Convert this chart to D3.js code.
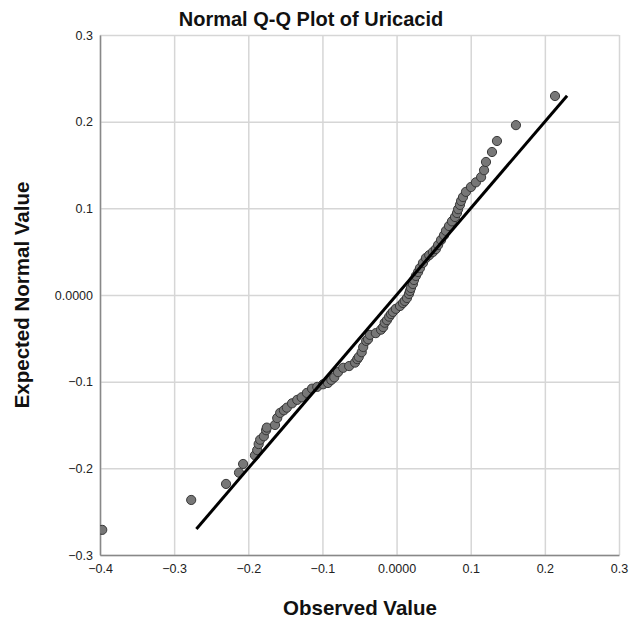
<!DOCTYPE html>
<html>
<head>
<meta charset="utf-8">
<script src="https://cdn.jsdelivr.net/npm/d3@7/dist/d3.min.js"></script>
<style>
  body { margin: 0; background: #fff; }
  svg { display: block; font-family: 'Liberation Sans', Arial, sans-serif; }
</style>
</head>
<body>
<div id="chart"></div>
<script>
const observed = [-0.397, -0.277, -0.230, -0.2125, -0.207, -0.191, -0.188, -0.186, -0.184, -0.179,
  -0.176, -0.175, -0.164, -0.161, -0.157, -0.152, -0.148, -0.141, -0.134, -0.128,
  -0.121, -0.114, -0.107, -0.099, -0.0925, -0.088, -0.084, -0.079, -0.072, -0.064,
  -0.056, -0.053, -0.051, -0.047, -0.045, -0.041, -0.0385, -0.036, -0.028, -0.021,
  -0.018, -0.016, -0.013, -0.010, -0.0075, -0.005, -0.001, 0.0046, 0.0086, 0.011,
  0.014, 0.0167, 0.018, 0.0194, 0.022, 0.0235, 0.026, 0.029, 0.0315, 0.0356,
  0.0396, 0.044, 0.049, 0.053, 0.056, 0.060, 0.064, 0.0666, 0.0707, 0.0747,
  0.0788, 0.0815, 0.083, 0.0855, 0.087, 0.0896, 0.0936, 0.1003, 0.107, 0.114,
  0.118, 0.1206, 0.1287, 0.1354, 0.161, 0.2137];
const expected = [-0.271, -0.2365, -0.218, -0.205, -0.195, -0.185, -0.179, -0.172, -0.167, -0.163,
  -0.156, -0.153, -0.150, -0.142, -0.136, -0.133, -0.130, -0.125, -0.121, -0.118,
  -0.113, -0.108, -0.106, -0.103, -0.1015, -0.098, -0.095, -0.089, -0.084, -0.082,
  -0.078, -0.074, -0.0715, -0.066, -0.060, -0.053, -0.051, -0.046, -0.044, -0.040,
  -0.037, -0.032, -0.029, -0.025, -0.022, -0.0195, -0.016, -0.0127, -0.0092, -0.0069,
  -0.0035, 0.0012, 0.0046, 0.0081, 0.0127, 0.0173, 0.022, 0.0265, 0.031, 0.037,
  0.0427, 0.046, 0.0496, 0.053, 0.0577, 0.0635, 0.069, 0.074, 0.0796, 0.085,
  0.090, 0.0946, 0.099, 0.104, 0.1085, 0.113, 0.119, 0.1246, 0.130, 0.136,
  0.144, 0.1535, 0.165, 0.1777, 0.196, 0.2296];
// reference line y = x
const refLine = [-0.27, 0.23];

const xTicks = [-0.4, -0.3, -0.2, -0.1, 0, 0.1, 0.2, 0.3];
const yTicks = [-0.3, -0.2, -0.1, 0, 0.1, 0.2, 0.3];

const W = 633, H = 624;
const margin = { t: 35, r: 14, b: 69, l: 100 };
const innerWidth = W - margin.l - margin.r;
const innerHeight = H - margin.t - margin.b;

const fmt = d => (d === 0 ? '0.0000' : d3.format('.1f')(d));

const svg = d3.select('#chart').append('svg')
  .attr('width', W)
  .attr('height', H);

const x = d3.scaleLinear().domain([-0.4, 0.3]).range([0, innerWidth]);
const y = d3.scaleLinear().domain([-0.3, 0.3]).range([innerHeight, 0]);

const plot = svg.append('g')
  .attr('transform', `translate(${margin.l}, ${margin.t})`);

// grid
plot.append('g')
  .attr('class', 'grid-x')
  .call(d3.axisBottom(x).tickValues(xTicks).tickSize(innerHeight).tickFormat(''))
  .call(g => g.select('.domain').remove())
  .call(g => g.selectAll('text').remove())
  .selectAll('line')
  .attr('stroke', '#d6d6d6')
  .attr('stroke-width', 1.5);

plot.append('g')
  .attr('class', 'grid-y')
  .call(d3.axisRight(y).tickValues(yTicks).tickSize(innerWidth).tickFormat(''))
  .call(g => g.select('.domain').remove())
  .call(g => g.selectAll('text').remove())
  .selectAll('line')
  .attr('stroke', '#d6d6d6')
  .attr('stroke-width', 1.5);

// axes
const axisX = plot.append('g')
  .attr('transform', `translate(0, ${innerHeight})`)
  .call(d3.axisBottom(x).tickValues(xTicks).tickSize(0).tickPadding(9).tickFormat(fmt));
axisX.select('.domain').attr('stroke', '#888').attr('stroke-width', 1.5);
axisX.selectAll('text').style('font-size', '12.5px').attr('fill', '#222');

const axisY = plot.append('g')
  .call(d3.axisLeft(y).tickValues(yTicks).tickSize(0).tickPadding(7).tickFormat(fmt));
axisY.select('.domain').attr('stroke', '#888').attr('stroke-width', 1.5);
axisY.selectAll('text').style('font-size', '12.5px').attr('fill', '#222');

// clip for points
svg.append('defs').append('clipPath').attr('id', 'clip')
  .append('rect').attr('width', innerWidth).attr('height', innerHeight);

const data = observed.map((v, i) => ({ obs: v, exp: expected[i] }));

plot.append('g')
  .attr('clip-path', 'url(#clip)')
  .selectAll('circle')
  .data(data)
  .join('circle')
  .attr('cx', d => x(d.obs))
  .attr('cy', d => y(d.exp))
  .attr('r', 4.6)
  .attr('fill', '#777')
  .attr('stroke', '#383838')
  .attr('stroke-width', 1);

plot.append('line')
  .attr('x1', x(refLine[0]))
  .attr('y1', y(refLine[0]))
  .attr('x2', x(refLine[1]))
  .attr('y2', y(refLine[1]))
  .attr('stroke', '#000')
  .attr('stroke-width', 3);

// titles
svg.append('text')
  .attr('x', 311)
  .attr('y', 26)
  .attr('text-anchor', 'middle')
  .style('font-size', '20px')
  .style('font-weight', 'bold')
  .attr('fill', '#111')
  .text('Normal Q-Q Plot of Uricacid');

svg.append('text')
  .attr('x', 360)
  .attr('y', 615)
  .attr('text-anchor', 'middle')
  .style('font-size', '20.5px')
  .style('font-weight', 'bold')
  .attr('fill', '#111')
  .text('Observed Value');

svg.append('text')
  .attr('transform', `translate(29, ${margin.t + innerHeight / 2}) rotate(-90)`)
  .attr('text-anchor', 'middle')
  .style('font-size', '20.5px')
  .style('font-weight', 'bold')
  .attr('fill', '#111')
  .text('Expected Normal Value');
</script>
</body>
</html>
